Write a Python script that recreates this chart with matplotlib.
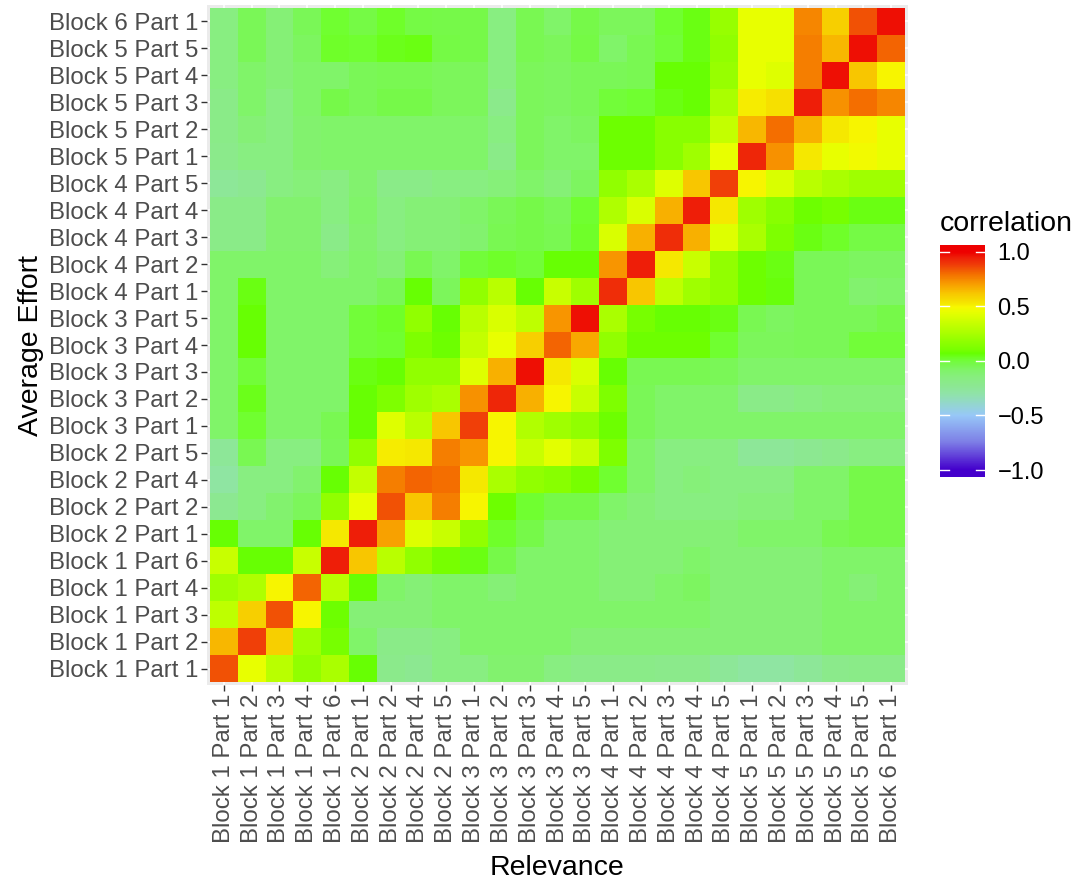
import numpy as np
import matplotlib
matplotlib.use("Agg")
import matplotlib.pyplot as plt
from matplotlib.colors import LinearSegmentedColormap, Normalize

plt.rcParams['font.family'] = ['Liberation Sans', 'DejaVu Sans']

# --- data ---
parts = ["Block 1 Part 1", "Block 1 Part 2", "Block 1 Part 3", "Block 1 Part 4",
         "Block 1 Part 6", "Block 2 Part 1", "Block 2 Part 2", "Block 2 Part 4",
         "Block 2 Part 5", "Block 3 Part 1", "Block 3 Part 2", "Block 3 Part 3",
         "Block 3 Part 4", "Block 3 Part 5", "Block 4 Part 1", "Block 4 Part 2",
         "Block 4 Part 3", "Block 4 Part 4", "Block 4 Part 5", "Block 5 Part 1",
         "Block 5 Part 2", "Block 5 Part 3", "Block 5 Part 4", "Block 5 Part 5",
         "Block 6 Part 1"]
relevance_labels = parts          # x axis, left to right
effort_labels = parts             # y axis, bottom to top

# correlation rows, listed from the top row (Block 6 Part 1) down to Block 1 Part 1
corr_b6p1 = [-0.15, -0.05, -0.12, -0.05, 0.02, -0.02, 0.03, -0.02, -0.03, -0.03, -0.15, -0.04, -0.08, -0.03, -0.06, -0.06, 0.02, 0.05, 0.20, 0.45, 0.45, 0.75, 0.60, 0.85, 0.97]
corr_b5p5 = [-0.15, -0.05, -0.12, -0.07, 0.03, 0.02, 0.04, 0.05, -0.02, -0.03, -0.15, -0.04, -0.06, -0.02, -0.08, -0.04, 0.00, 0.05, 0.18, 0.45, 0.45, 0.77, 0.65, 0.97, 0.82]
corr_b5p4 = [-0.15, -0.08, -0.12, -0.08, -0.08, -0.05, -0.04, -0.04, -0.06, -0.06, -0.15, -0.06, -0.07, -0.05, -0.05, -0.04, 0.07, 0.07, 0.20, 0.45, 0.42, 0.77, 0.97, 0.62, 0.50]
corr_b5p3 = [-0.18, -0.08, -0.15, -0.08, -0.03, -0.05, -0.03, -0.03, -0.06, -0.06, -0.20, -0.06, -0.07, -0.05, 0.00, 0.02, 0.05, 0.07, 0.25, 0.52, 0.55, 0.95, 0.73, 0.80, 0.75]
corr_b5p2 = [-0.18, -0.12, -0.15, -0.10, -0.08, -0.08, -0.08, -0.08, -0.08, -0.08, -0.15, -0.06, -0.08, -0.07, 0.08, 0.08, 0.15, 0.15, 0.33, 0.65, 0.80, 0.67, 0.53, 0.50, 0.45]
corr_b5p1 = [-0.20, -0.15, -0.15, -0.10, -0.08, -0.08, -0.08, -0.08, -0.08, -0.08, -0.18, -0.06, -0.08, -0.08, 0.08, 0.08, 0.15, 0.22, 0.45, 0.93, 0.73, 0.53, 0.45, 0.48, 0.45]
corr_b4p5 = [-0.25, -0.22, -0.15, -0.13, -0.16, -0.10, -0.18, -0.18, -0.15, -0.15, -0.13, -0.08, -0.12, -0.07, 0.18, 0.25, 0.42, 0.62, 0.88, 0.50, 0.40, 0.30, 0.25, 0.22, 0.22]
corr_b4p4 = [-0.18, -0.18, -0.10, -0.10, -0.15, -0.08, -0.15, -0.12, -0.12, -0.08, -0.05, -0.03, -0.05, 0.02, 0.27, 0.40, 0.67, 0.95, 0.53, 0.22, 0.15, 0.08, 0.10, 0.05, 0.05]
corr_b4p3 = [-0.18, -0.18, -0.10, -0.10, -0.18, -0.10, -0.15, -0.12, -0.12, -0.10, -0.04, -0.03, -0.04, 0.03, 0.40, 0.67, 0.92, 0.67, 0.42, 0.25, 0.12, 0.05, 0.03, -0.02, -0.02]
corr_b4p2 = [-0.08, -0.08, -0.08, -0.08, -0.13, -0.08, -0.12, -0.04, -0.08, 0.00, 0.03, 0.00, 0.07, 0.07, 0.72, 0.95, 0.53, 0.35, 0.18, 0.08, 0.05, -0.05, -0.05, -0.07, -0.07]
corr_b4p1 = [-0.08, 0.05, -0.08, -0.08, -0.08, -0.08, -0.05, 0.07, -0.06, 0.18, 0.30, 0.07, 0.35, 0.22, 0.92, 0.62, 0.32, 0.22, 0.18, 0.08, 0.06, -0.05, -0.05, -0.10, -0.08]
corr_b3p5 = [-0.08, 0.07, -0.08, -0.08, -0.08, 0.00, 0.03, 0.18, 0.07, 0.30, 0.40, 0.32, 0.72, 0.97, 0.25, 0.10, 0.07, 0.07, 0.05, -0.04, -0.07, -0.05, -0.05, -0.05, -0.03]
corr_b3p4 = [-0.08, 0.07, -0.08, -0.08, -0.08, 0.00, 0.02, 0.12, 0.08, 0.33, 0.45, 0.60, 0.82, 0.68, 0.18, 0.08, 0.08, 0.08, 0.02, -0.06, -0.06, -0.05, -0.05, 0.00, 0.00]
corr_b3p3 = [-0.08, 0.00, -0.08, -0.08, -0.08, 0.05, 0.07, 0.18, 0.18, 0.42, 0.67, 0.97, 0.53, 0.40, 0.07, -0.04, -0.04, -0.04, -0.05, -0.08, -0.08, -0.08, -0.08, -0.08, -0.08]
corr_b3p2 = [-0.08, 0.04, -0.08, -0.08, -0.08, 0.07, 0.12, 0.22, 0.25, 0.73, 0.93, 0.67, 0.50, 0.35, 0.12, -0.05, -0.08, -0.08, -0.08, -0.18, -0.18, -0.15, -0.13, -0.13, -0.13]
corr_b3p1 = [-0.08, 0.02, -0.08, -0.08, -0.04, 0.07, 0.42, 0.30, 0.62, 0.88, 0.50, 0.28, 0.22, 0.18, 0.08, -0.05, -0.08, -0.08, -0.08, -0.08, -0.08, -0.08, -0.08, -0.08, -0.08]
corr_b2p5 = [-0.25, -0.04, -0.15, -0.15, -0.05, 0.18, 0.52, 0.53, 0.77, 0.72, 0.50, 0.35, 0.43, 0.35, 0.12, -0.08, -0.15, -0.15, -0.15, -0.25, -0.25, -0.22, -0.20, -0.15, -0.15]
corr_b2p4 = [-0.28, -0.15, -0.15, -0.10, 0.07, 0.33, 0.77, 0.82, 0.80, 0.53, 0.25, 0.18, 0.15, 0.10, 0.02, -0.08, -0.15, -0.13, -0.15, -0.15, -0.15, -0.08, -0.08, -0.03, -0.03]
corr_b2p2 = [-0.22, -0.15, -0.10, -0.06, 0.18, 0.45, 0.85, 0.62, 0.77, 0.50, 0.08, 0.02, -0.03, -0.03, -0.08, -0.12, -0.15, -0.15, -0.15, -0.13, -0.13, -0.08, -0.08, -0.03, -0.03]
corr_b2p1 = [0.07, -0.08, -0.08, 0.07, 0.53, 0.95, 0.70, 0.42, 0.35, 0.18, 0.03, -0.03, -0.08, -0.08, -0.12, -0.12, -0.12, -0.12, -0.12, -0.08, -0.08, -0.08, -0.04, -0.03, -0.03]
corr_b1p6 = [0.35, 0.07, 0.07, 0.35, 0.95, 0.62, 0.30, 0.18, 0.10, 0.05, -0.03, -0.08, -0.08, -0.08, -0.12, -0.12, -0.12, -0.08, -0.12, -0.12, -0.12, -0.12, -0.08, -0.08, -0.08]
corr_b1p4 = [0.22, 0.27, 0.50, 0.82, 0.30, 0.07, -0.08, -0.12, -0.08, -0.08, -0.12, -0.08, -0.08, -0.08, -0.12, -0.12, -0.08, -0.07, -0.12, -0.12, -0.12, -0.12, -0.08, -0.12, -0.08]
corr_b1p3 = [0.32, 0.60, 0.85, 0.50, 0.08, -0.12, -0.12, -0.12, -0.08, -0.08, -0.08, -0.08, -0.08, -0.08, -0.08, -0.08, -0.08, -0.08, -0.12, -0.12, -0.12, -0.12, -0.08, -0.08, -0.08]
corr_b1p2 = [0.65, 0.88, 0.60, 0.22, 0.10, -0.08, -0.18, -0.18, -0.15, -0.08, -0.08, -0.08, -0.08, -0.12, -0.12, -0.12, -0.12, -0.12, -0.12, -0.12, -0.12, -0.12, -0.08, -0.08, -0.08]
corr_b1p1 = [0.85, 0.45, 0.30, 0.18, 0.25, 0.07, -0.20, -0.22, -0.15, -0.15, -0.10, -0.10, -0.15, -0.18, -0.18, -0.18, -0.20, -0.20, -0.25, -0.28, -0.28, -0.25, -0.20, -0.18, -0.18]

rows_top_down = [corr_b6p1, corr_b5p5, corr_b5p4, corr_b5p3, corr_b5p2, corr_b5p1,
                 corr_b4p5, corr_b4p4, corr_b4p3, corr_b4p2, corr_b4p1,
                 corr_b3p5, corr_b3p4, corr_b3p3, corr_b3p2, corr_b3p1,
                 corr_b2p5, corr_b2p4, corr_b2p2, corr_b2p1,
                 corr_b1p6, corr_b1p4, corr_b1p3, corr_b1p2, corr_b1p1]
corr = np.flipud(np.array(rows_top_down))   # row 0 = Block 1 Part 1 (bottom)

cbar_ticks = [-1.0, -0.5, 0.0, 0.5, 1.0]
cbar_labels = ["\u22121.0", "\u22120.5", "0.0", "0.5", "1.0"]

# colour scale
anchors = [(-1.0, "#4400cc"), (-0.75, "#7d7de6"), (-0.5, "#98c8f8"), (-0.3, "#90e4a8"),
           (-0.22, "#8ce890"), (-0.15, "#88ee80"), (-0.08, "#80f468"), (-0.04, "#78f850"),
           (0.02, "#70ff30"), (0.07, "#66ff00"), (0.1, "#78ff00"), (0.18, "#90ff00"),
           (0.25, "#a8ff00"), (0.35, "#c8ff00"), (0.45, "#e8ff00"), (0.5, "#f8f800"),
           (0.53, "#f5e800"), (0.62, "#f8c800"), (0.72, "#f89800"), (0.8, "#f47000"),
           (0.88, "#f04008"), (0.95, "#ee2008"), (1.0, "#ee0000")]
cmap = LinearSegmentedColormap.from_list("corr", [((v + 1) / 2, c) for v, c in anchors])
norm = Normalize(vmin=-1, vmax=1)

W, H = 1080, 884
fig = plt.figure(figsize=(W / 100, H / 100), dpi=100)

# main panel
ax = fig.add_axes([207.2 / W, 1 - 684.7 / H, 700.6 / W, 679.4 / H])
ax.set_facecolor("#ebebeb")
n = len(parts)
ax.pcolormesh(np.arange(n + 1) - 0.5, np.arange(n + 1) - 0.5, corr,
              cmap=cmap, norm=norm, zorder=2)
ax.set_xlim(-0.6, n - 0.4)
ax.set_ylim(-0.6, n - 0.4)
for k in range(n):
    ax.axvline(k, color="white", lw=1.1, zorder=1)
    ax.axhline(k, color="white", lw=1.1, zorder=1)
for s in ax.spines.values():
    s.set_visible(False)

ax.set_xticks(range(n))
ax.set_xticklabels(relevance_labels, rotation=90, fontsize=17.3, color="#4d4d4d")
ax.set_yticks(range(n))
ax.set_yticklabels(effort_labels, fontsize=17.3, color="#4d4d4d")
ax.tick_params(axis="both", length=4.5, width=1.0, color="#333333", pad=2)

fig.text(557 / W, 1 - 868 / H, "Relevance", fontsize=20.5, ha="center", va="center")
fig.text(31 / W, 1 - 345 / H, "Average Effort", fontsize=20.5, ha="center", va="center",
         rotation=90)

# colour bar
cax = fig.add_axes([940 / W, 1 - 476.7 / H, 45 / W, 231.7 / H])
lim = 1.061
grad = np.linspace(-lim, lim, 400).reshape(-1, 1)
cax.imshow(grad, aspect="auto", origin="lower", cmap=cmap, norm=norm,
           extent=[0, 1, -lim, lim])
cax.set_xlim(0, 1)
cax.set_ylim(-lim, lim)
for s in cax.spines.values():
    s.set_visible(False)
cax.set_xticks([])
for t in cbar_ticks:
    cax.plot([0, 0.2], [t, t], color="white", lw=1.0)
    cax.plot([0.8, 1], [t, t], color="white", lw=1.0)
cax.yaxis.tick_right()
cax.set_yticks(cbar_ticks)
cax.set_yticklabels(cbar_labels, fontsize=17)
cax.tick_params(axis="y", length=0, pad=9)
fig.text(940 / W, 1 - 224 / H, "correlation", fontsize=20.5, ha="left", va="center")

fig.savefig("out.png", dpi=100)
